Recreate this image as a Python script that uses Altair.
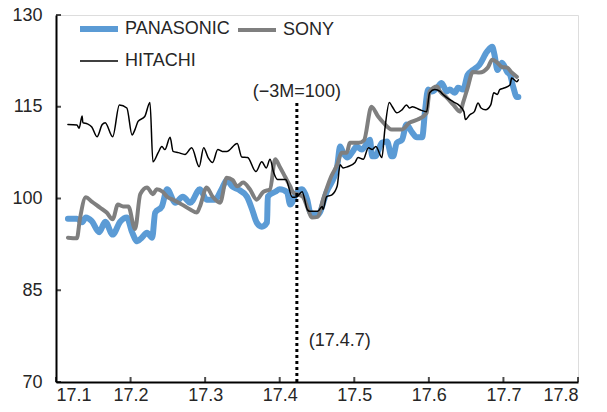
import altair as alt
import pandas as pd

# ---- data (x in "year.month" units, e.g. 17.1 = Jan 2017) ----
series_names = ["PANASONIC", "SONY", "HITACHI"]

pana_x = [17.116, 17.128, 17.135, 17.140, 17.148, 17.158, 17.166, 17.176, 17.186, 17.195,
          17.202, 17.209, 17.215, 17.222, 17.229, 17.233, 17.242, 17.249, 17.260, 17.270,
          17.280, 17.293, 17.302, 17.313, 17.322, 17.329, 17.336, 17.344, 17.356, 17.363,
          17.369, 17.376, 17.383, 17.384, 17.394, 17.400, 17.410, 17.414, 17.423, 17.430,
          17.437, 17.441, 17.451, 17.463, 17.477, 17.481, 17.485, 17.491, 17.498, 17.503,
          17.510, 17.521, 17.524, 17.528, 17.537, 17.544, 17.550, 17.552, 17.557, 17.564,
          17.570, 17.577, 17.584, 17.591, 17.595, 17.599, 17.604, 17.611, 17.617, 17.624,
          17.628, 17.635, 17.639, 17.646, 17.652, 17.659, 17.668, 17.678, 17.685, 17.688,
          17.692, 17.698, 17.705, 17.709, 17.713, 17.718, 17.720]
pana_y = [96.7, 96.7, 96.1, 96.9, 96.3, 94.5, 96.2, 94.1, 96.2, 96.9,
          94.5, 93.0, 93.6, 94.4, 93.6, 97.7, 98.7, 101.5, 99.3, 100.3,
          99.3, 101.5, 99.8, 99.8, 101.5, 103.0, 102.0, 101.5, 100.3, 98.2,
          96.1, 95.4, 96.1, 100.3, 101.1, 101.5, 101.0, 99.0, 101.0, 101.5,
          99.8, 97.7, 97.3, 101.1, 105.2, 108.5, 107.5, 106.7, 107.7, 108.5,
          108.0, 109.6, 106.9, 106.9, 109.1, 109.3, 106.9, 106.9, 109.1, 109.6,
          112.1, 110.9, 110.0, 110.0, 114.5, 117.8, 117.5, 118.1, 118.9, 117.5,
          117.8, 117.3, 118.1, 117.8, 120.2, 121.0, 121.9, 124.0, 124.8, 123.5,
          121.0, 122.2, 120.7, 120.2, 118.3, 116.6, 116.6]

sony_x = [17.116, 17.128, 17.132, 17.140, 17.148, 17.159, 17.168, 17.176, 17.183, 17.190,
          17.197, 17.206, 17.213, 17.222, 17.230, 17.235, 17.243, 17.249, 17.257, 17.269,
          17.280, 17.289, 17.293, 17.302, 17.310, 17.320, 17.329, 17.337, 17.343, 17.351,
          17.360, 17.369, 17.378, 17.387, 17.394, 17.400, 17.407, 17.414, 17.418, 17.431,
          17.438, 17.443, 17.451, 17.458, 17.469, 17.477, 17.483, 17.490, 17.494, 17.506,
          17.513, 17.523, 17.532, 17.539, 17.550, 17.564, 17.574, 17.585, 17.597, 17.601,
          17.611, 17.615, 17.624, 17.633, 17.642, 17.646, 17.652, 17.659, 17.668, 17.679,
          17.685, 17.691, 17.698, 17.705, 17.711, 17.718]
sony_y = [93.6, 93.5, 96.6, 100.2, 99.5, 98.5, 97.7, 96.6, 99.0, 98.7,
          98.7, 95.0, 100.7, 101.8, 100.7, 101.5, 101.1, 100.3, 99.8, 99.0,
          98.2, 97.7, 98.7, 101.8, 100.3, 99.3, 103.4, 103.0, 102.0, 102.6,
          101.5, 99.8, 101.1, 101.5, 106.4, 105.2, 103.6, 102.0, 101.0, 100.3,
          98.2, 96.9, 97.0, 99.8, 103.6, 105.5, 107.5, 107.5, 109.1, 109.1,
          109.5, 115.0, 113.4, 112.4, 111.3, 111.3, 112.4, 112.9, 114.0, 117.5,
          118.3, 117.5, 116.5, 115.3, 114.2, 115.7, 118.1, 120.7, 120.6, 121.4,
          122.7, 122.3, 121.5, 121.4, 120.6, 119.9]

hita_x = [17.116, 17.128, 17.131, 17.135, 17.136, 17.142, 17.148, 17.155, 17.162, 17.166,
          17.176, 17.185, 17.195, 17.202, 17.206, 17.210, 17.219, 17.226, 17.230, 17.237,
          17.242, 17.246, 17.253, 17.257, 17.264, 17.273, 17.282, 17.292, 17.298, 17.304,
          17.310, 17.317, 17.323, 17.329, 17.343, 17.349, 17.357, 17.368, 17.376, 17.382,
          17.387, 17.392, 17.397, 17.408, 17.417, 17.423, 17.430, 17.437, 17.440, 17.451,
          17.457, 17.458, 17.463, 17.470, 17.477, 17.481, 17.485, 17.491, 17.501, 17.505,
          17.512, 17.519, 17.524, 17.529, 17.537, 17.541, 17.547, 17.551, 17.557, 17.564,
          17.570, 17.574, 17.578, 17.588, 17.597, 17.601, 17.608, 17.615, 17.619, 17.624,
          17.633, 17.640, 17.647, 17.649, 17.655, 17.661, 17.666, 17.670, 17.676, 17.683,
          17.687, 17.692, 17.695, 17.702, 17.709, 17.711, 17.718, 17.720]
hita_y = [112.1, 112.0, 111.5, 113.5, 112.4, 112.2, 111.7, 110.1, 112.1, 112.4,
          110.1, 115.3, 114.8, 110.4, 111.3, 112.6, 113.4, 115.7, 106.0, 107.5,
          108.5, 108.0, 110.0, 107.7, 107.5, 107.2, 108.3, 105.2, 108.3, 106.7,
          105.9, 108.0, 107.7, 107.7, 109.0, 106.8, 106.7, 104.4, 106.0, 105.0,
          106.4, 104.2, 103.1, 103.1, 100.2, 100.3, 101.1, 98.2, 97.9, 97.9,
          98.7, 98.2, 100.3, 100.6, 102.0, 105.5, 105.0, 105.2, 105.9, 106.7,
          106.4, 108.3, 108.0, 108.5, 106.7, 111.3, 115.7, 115.0, 114.0, 114.5,
          115.3, 114.8, 115.0, 114.5, 114.2, 117.3, 117.8, 117.5, 117.0, 116.5,
          115.8, 115.3, 114.2, 112.9, 113.7, 114.2, 115.6, 114.8, 114.5, 115.3,
          117.3, 117.0, 117.8, 118.1, 118.6, 119.7, 119.1, 119.4]

x_ticks = [17.1, 17.2, 17.3, 17.4, 17.5, 17.6, 17.7, 17.8]
y_ticks = [70, 85, 100, 115, 130]

event_x = 17.423
event_label_top = "(−3M=100)"
event_label_bottom = "(17.4.7)"

series_colors = ["#5B9BD5", "#7F7F7F", "#000000"]
series_widths = [6, 4, 1.5]

# ---- build table ----
rows = []
for name, xs, ys in [("PANASONIC", pana_x, pana_y), ("SONY", sony_x, sony_y), ("HITACHI", hita_x, hita_y)]:
    for xv, yv in zip(xs, ys):
        rows.append({"date": xv, "value": yv, "series": name})
df = pd.DataFrame(rows)

FONT = "Liberation Sans"
TXT = "#262626"

xscale = alt.Scale(domain=[17.1, 17.8], nice=False, zero=False)
yscale = alt.Scale(domain=[70, 130], nice=False, zero=False)

legend_kw = dict(title=None, orient="none", legendX=21, legendY=-8, columns=2, direction="horizontal",
                 symbolType="stroke", symbolSize=1444, labelFontSize=18, labelFont=FONT,
                 labelColor=TXT, columnPadding=0, rowPadding=-8, labelOffset=4, padding=0)

color_enc = alt.Color("series:N", scale=alt.Scale(domain=series_names, range=series_colors),
                      legend=alt.Legend(**legend_kw))
width_enc = alt.StrokeWidth("series:N",
                            scale=alt.Scale(type="ordinal", domain=series_names, range=series_widths),
                            legend=alt.Legend(**legend_kw))

x_enc = alt.X("date:Q", scale=xscale,
              axis=alt.Axis(title=None, values=x_ticks, format=".1f", ticks=False, grid=False,
                            domainColor="black", domainWidth=2, labelFontSize=18, labelFont=FONT,
                            labelColor=TXT, labelPadding=4))
y_enc = alt.Y("value:Q", scale=yscale,
              axis=alt.Axis(title=None, values=y_ticks, ticks=False, grid=False,
                            domainColor="black", domainWidth=2, labelFontSize=18, labelFont=FONT,
                            labelColor=TXT, labelPadding=14))

base = alt.Chart(df)
layers = []
for name in series_names:
    layers.append(
        base.transform_filter(alt.datum.series == name)
        .mark_line(strokeJoin="round", strokeCap="round", interpolate="monotone")
        .encode(x=x_enc, y=y_enc, color=color_enc, strokeWidth=width_enc)
    )

vdf = pd.DataFrame({"date": [event_x], "lo": [70], "hi": [116.0]})
vline = alt.Chart(vdf).mark_rule(color="black", strokeWidth=3, strokeDash=[3, 3]).encode(
    x="date:Q", y="lo:Q", y2="hi:Q")

tdf = pd.DataFrame({"date": [event_x, 17.439], "value": [117.4, 76.7],
                    "label": [event_label_top, event_label_bottom]})
t_top = alt.Chart(tdf.iloc[[0]]).mark_text(font=FONT, fontSize=18, color=TXT, align="center",
                                            baseline="middle").encode(x="date:Q", y="value:Q", text="label:N")
t_bot = alt.Chart(tdf.iloc[[1]]).mark_text(font=FONT, fontSize=18, color=TXT, align="left",
                                            baseline="middle").encode(x="date:Q", y="value:Q", text="label:N")

# inward tick marks
xt = alt.Chart(pd.DataFrame({"date": x_ticks, "value": [70] * len(x_ticks)})).mark_tick(
    orient="vertical", size=5, thickness=2, color="black", yOffset=-2.5).encode(x="date:Q", y="value:Q")
yt = alt.Chart(pd.DataFrame({"date": [17.1] * len(y_ticks), "value": y_ticks})).mark_tick(
    orient="horizontal", size=5, thickness=2, color="black", xOffset=2.5).encode(x="date:Q", y="value:Q")

chart = alt.layer(*layers, vline, t_top, t_bot, xt, yt).properties(
    width=522, height=367,
    autosize=alt.AutoSizeParams(type="none"),
    padding={"left": 48, "top": 7, "right": 20, "bottom": 22},
).configure_view(stroke=None).configure(background="white")

chart.save("out.html", embed_options={"renderer": "svg", "actions": False})
